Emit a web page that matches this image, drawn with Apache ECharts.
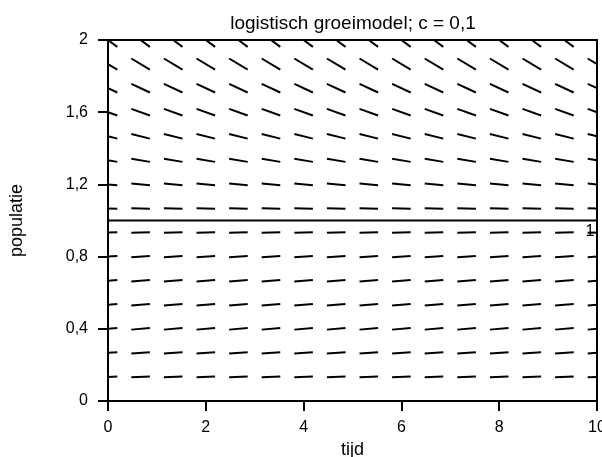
<!DOCTYPE html>
<html>
<head>
<meta charset="utf-8">
<script src="https://cdn.jsdelivr.net/npm/echarts@6/dist/echarts.min.js"></script>
<style>
html,body{margin:0;padding:0;background:#fff;}
#chart{width:602px;height:457px;}
</style>
</head>
<body>
<div id="chart"></div>
<script>
// ---- data ----
const titleText = 'logistisch groeimodel; c = 0,1';
const xName = 'tijd';
const yName = 'populatie';
const tValues = [0, 0.6667, 1.3333, 2, 2.6667, 3.3333, 4, 4.6667, 5.3333, 6, 6.6667, 7.3333, 8, 8.6667, 9.3333, 10];
const yValues = [0, 0.1333, 0.2667, 0.4, 0.5333, 0.6667, 0.8, 0.9333, 1.0667, 1.2, 1.3333, 1.4667, 1.6, 1.7333, 1.8667, 2];
const slopes = [0, 0.0116, 0.0196, 0.024, 0.0249, 0.0222, 0.016, 0.0062, -0.0071, -0.024, -0.0444, -0.0684, -0.096, -0.1271, -0.1618, -0.2];
const equilibriumX = [0, 10];
const equilibriumY = [1, 1];
const equilibriumLabel = '1';
const xTickLabels = ['0', '2', '4', '6', '8', '10'];
const yTickLabels = ['0', '0,4', '0,8', '1,2', '1,6', '2'];

// ---- build ----
const X_MIN = 0, X_MAX = 10, Y_MIN = 0, Y_MAX = 2;
const HALF = 0.19; // half segment length along t (style)
const FONT = 'Liberation Sans, Arial, sans-serif';

const fieldData = [];
yValues.forEach((y, k) => {
  tValues.forEach(t => fieldData.push([t, y, slopes[k]]));
});

function renderSeg(params, api) {
  const t = api.value(0), y = api.value(1), s = api.value(2);
  let u0 = -HALF, u1 = HALF;
  u0 = Math.max(u0, X_MIN - t);
  u1 = Math.min(u1, X_MAX - t);
  if (s !== 0) {
    const ua = (Y_MIN - y) / s, ub = (Y_MAX - y) / s;
    u0 = Math.max(u0, Math.min(ua, ub));
    u1 = Math.min(u1, Math.max(ua, ub));
  }
  if (u1 <= u0) return null;
  const p0 = api.coord([t + u0, y + s * u0]);
  const p1 = api.coord([t + u1, y + s * u1]);
  return {
    type: 'line',
    shape: { x1: p0[0], y1: p0[1], x2: p1[0], y2: p1[1] },
    style: { stroke: '#000', lineWidth: 2, lineCap: 'butt' }
  };
}

const eqData = equilibriumX.map((x, i) => {
  if (i === equilibriumX.length - 1) {
    return {
      value: [x, equilibriumY[i]],
      label: {
        show: true, formatter: equilibriumLabel, position: 'bottom',
        distance: 3, offset: [-7, 0],
        color: '#000', fontSize: 16, fontFamily: FONT
      }
    };
  }
  return [x, equilibriumY[i]];
});

const chart = echarts.init(document.getElementById('chart'), null, { renderer: 'canvas' });
chart.setOption({
  animation: false,
  backgroundColor: '#fff',
  title: {
    text: titleText,
    left: 348, top: 9, textAlign: 'center',
    textStyle: { color: '#000', fontSize: 19, fontWeight: 'normal', fontFamily: FONT }
  },
  grid: {
    left: 108, right: 5, top: 40, bottom: 56,
    outerBoundsMode: 'none',
    containLabel: false,
    show: true, borderColor: '#000', borderWidth: 2, backgroundColor: 'transparent'
  },
  xAxis: {
    type: 'value', min: X_MIN, max: X_MAX, interval: 2,
    name: xName, nameLocation: 'middle', nameGap: 38,
    nameTextStyle: { color: '#000', fontSize: 18, fontFamily: FONT },
    axisLine: { show: true, onZero: false, lineStyle: { color: '#000', width: 2 } },
    axisTick: { show: true, inside: false, length: 10, lineStyle: { color: '#000', width: 2 } },
    axisLabel: {
      color: '#000', fontSize: 16, fontFamily: FONT, margin: 19,
      formatter: (v, i) => xTickLabels[i]
    },
    splitLine: { show: false }
  },
  yAxis: {
    type: 'value', min: Y_MIN, max: Y_MAX, interval: 0.4,
    name: yName, nameLocation: 'middle', nameGap: 82, nameRotate: 90,
    nameTextStyle: { color: '#000', fontSize: 18, fontFamily: FONT },
    axisLine: { show: true, onZero: false, lineStyle: { color: '#000', width: 2 } },
    axisTick: { show: true, inside: false, length: 10, lineStyle: { color: '#000', width: 2 } },
    axisLabel: {
      color: '#000', fontSize: 16, fontFamily: FONT, margin: 20,
      formatter: (v, i) => yTickLabels[i]
    },
    splitLine: { show: false }
  },
  series: [
    {
      type: 'custom',
      renderItem: renderSeg,
      data: fieldData,
      encode: { x: 0, y: 1 },
      silent: true,
      z: 3
    },
    {
      type: 'line',
      data: eqData,
      showSymbol: true,
      symbol: 'circle',
      symbolSize: 0,
      lineStyle: { color: '#000', width: 1.8 },
      itemStyle: { color: '#000' },
      silent: true,
      z: 4
    }
  ]
});
</script>
</body>
</html>
